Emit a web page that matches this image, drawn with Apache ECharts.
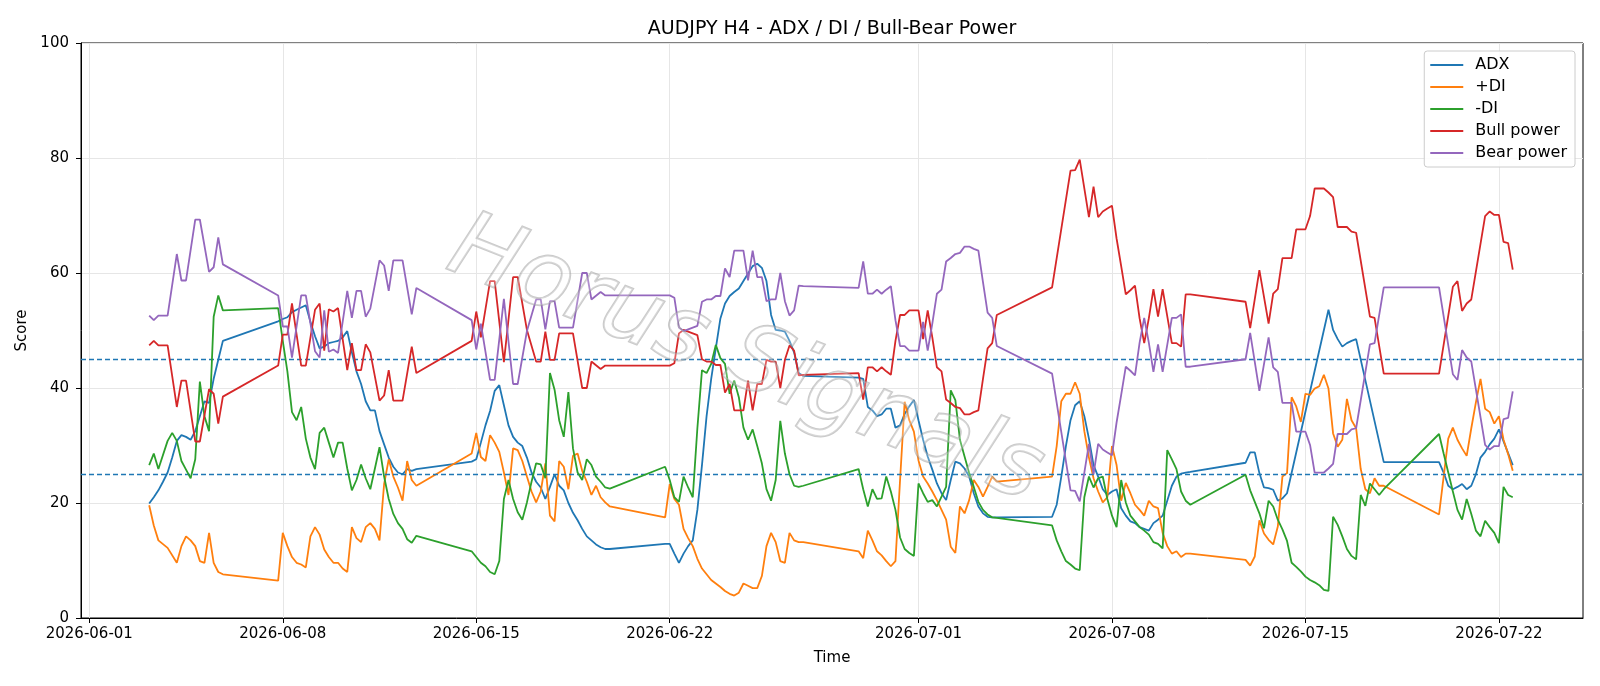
<!DOCTYPE html>
<html>
<head>
<meta charset="utf-8">
<script src="https://cdn.jsdelivr.net/npm/echarts@6/dist/echarts.min.js"></script>
<style>html,body{margin:0;padding:0;background:#fff}#chart{width:1600px;height:686px}</style>
</head>
<body>
<div id="chart"></div>
<script>
// time values are hours since 2026-06-01 00:00 (H4 bars, weekend gaps)
const tickHours = [0, 168, 336, 504, 720, 888, 1056, 1224];
const tickLabels = ['2026-06-01','2026-06-08','2026-06-15','2026-06-22','2026-07-01','2026-07-08','2026-07-15','2026-07-22'];
const yTicks = [0, 20, 40, 60, 80, 100];
const thresholds = [45, 25];

const adx = [[52,19.9],[56,21.0],[60,22.2],[64,23.7],[68,25.3],[72,27.9],[76,30.8],[80,31.8],[84,31.5],[88,31.0],[92,32.5],[96,35.1],[100,37.7],[104,37.4],[108,41.6],[112,44.9],[116,48.2],
[164,51.6],[168,52.0],[172,52.3],[176,53.2],[180,53.6],[184,54.0],[188,54.4],[192,51.5],[196,49.0],[200,46.9],[204,47.2],[208,47.8],[212,48.0],[216,48.2],[220,48.8],[224,49.9],[228,46.2],[232,42.9],[236,40.7],[240,37.7],[244,36.1],[248,36.1],[252,32.5],[256,30.2],[260,27.9],[264,26.3],[268,25.3],[272,25.0],[276,25.9],[280,25.6],[284,25.9],
[332,27.2],[336,27.6],[340,30.5],[344,33.5],[348,36.0],[352,39.5],[356,40.5],[360,37.0],[364,33.5],[368,31.5],[372,30.5],[376,29.9],[380,27.9],[384,25.3],[388,23.7],[392,22.7],[396,20.7],[400,22.8],[404,25.0],[408,23.0],[412,22.2],[416,20.0],[420,18.3],[424,17.0],[428,15.5],[432,14.2],[436,13.5],[440,12.8],[444,12.3],[448,12.0],[452,12.0],
[500,12.9],[504,12.9],[508,11.2],[512,9.6],[516,11.2],[520,12.5],[524,13.5],[528,18.8],[532,26.6],[536,35.1],[540,41.6],[544,46.9],[548,52.1],[552,54.7],[556,56.0],[560,56.7],[564,57.3],[568,58.6],[572,59.9],[576,61.2],[580,61.6],[584,60.9],[588,58.6],[592,52.7],[596,50.1],[600,50.0],[604,49.8],[608,48.2],[612,46.2],[616,42.6],[620,42.1],
[668,41.8],[672,41.6],[676,36.7],[680,36.1],[684,35.1],[688,35.4],[692,36.4],[696,36.4],[700,33.1],[704,33.5],[708,35.5],[712,36.8],[716,37.9],[720,34.4],[724,31.0],[728,28.1],[732,25.8],[736,23.4],[740,21.7],[744,20.5],[748,24.0],[752,27.2],[756,26.9],[760,26.0],[764,24.6],[768,21.7],[772,19.4],[776,18.2],[780,17.6],[784,17.5],[788,17.5],
[836,17.6],[840,19.7],[844,24.6],[848,29.9],[852,34.4],[856,37.0],[860,37.7],[864,35.1],[868,31.2],[872,26.6],[876,24.6],[880,22.4],[884,21.4],[888,22.0],[892,22.4],[896,19.1],[900,17.8],[904,16.8],[908,16.5],[912,15.8],[916,15.5],[920,15.2],[924,16.5],[928,17.1],[932,17.8],[936,20.4],[940,23.0],[944,24.6],[948,25.1],[952,25.3],[956,25.4],
[1004,27.0],[1008,28.8],[1012,28.8],[1016,25.2],[1020,22.7],[1024,22.6],[1028,22.3],[1032,20.4],[1036,20.8],[1040,21.7],[1076,53.6],[1080,50.1],[1084,48.5],[1088,47.2],[1092,47.8],[1096,48.2],[1100,48.5],[1124,27.1],
[1172,27.1],[1176,25.3],[1180,23.0],[1184,22.4],[1188,22.8],[1192,23.3],[1196,22.4],[1200,23.0],[1204,25.0],[1208,27.9],[1212,28.9],[1216,30.2],[1220,31.2],[1224,32.8],[1236,26.6]];

const plusDi = [[52,19.6],[56,16.1],[60,13.5],[68,12.2],[76,9.6],[80,12.5],[84,14.2],[88,13.5],[92,12.5],[96,9.9],[100,9.6],[104,14.8],[108,9.6],[112,8.0],[116,7.6],
[164,6.5],[168,14.8],[172,12.5],[176,10.6],[180,9.6],[184,9.3],[188,8.8],[192,14.2],[196,15.8],[200,14.5],[204,11.9],[208,10.6],[212,9.6],[216,9.6],[220,8.6],[224,8.0],[228,15.8],[232,13.9],[236,13.2],[240,15.8],[244,16.5],[248,15.5],[252,13.5],[256,23.3],[260,27.6],[264,24.6],[268,22.7],[272,20.4],[276,27.3],[280,24.0],[284,23.0],
[332,28.6],[336,32.2],[340,28.0],[344,27.3],[348,31.8],[352,30.5],[356,28.9],[360,25.3],[364,21.4],[368,29.5],[372,29.2],[376,27.3],[380,24.6],[384,22.0],[388,20.1],[392,22.0],[396,26.9],[400,17.8],[404,16.8],[408,27.3],[412,26.3],[416,22.4],[420,28.2],[424,28.6],[428,25.6],[432,23.7],[436,21.4],[440,23.0],[444,21.0],[448,20.1],[452,19.4],
[500,17.5],[504,23.3],[508,20.7],[512,19.7],[516,15.5],[520,13.9],[524,12.5],[528,10.3],[532,8.6],[536,7.6],[540,6.6],[544,6.0],[548,5.4],[552,4.7],[556,4.2],[560,3.9],[564,4.4],[568,6.0],[572,5.6],[576,5.2],[580,5.2],[584,7.3],[588,12.5],[592,14.8],[596,13.2],[600,9.9],[604,9.6],[608,14.8],[612,13.5],[616,13.2],[620,13.2],
[668,11.6],[672,10.4],[676,15.2],[680,13.5],[684,11.6],[688,10.9],[692,9.9],[696,9.0],[700,9.9],[704,24.0],[708,37.6],[712,34.4],[716,32.4],[720,27.4],[724,24.6],[728,23.4],[732,22.0],[736,20.5],[740,18.8],[744,17.1],[748,12.4],[752,11.3],[756,19.4],[760,18.2],[764,20.5],[768,24.0],[772,22.8],[776,21.1],[780,22.8],[784,24.6],[788,23.7],
[836,24.6],[840,29.9],[844,37.7],[848,39.0],[852,39.0],[856,41.0],[860,39.0],[864,32.5],[868,27.9],[872,24.3],[876,22.0],[880,20.1],[884,21.0],[888,29.9],[892,26.6],[896,20.4],[900,23.5],[904,21.7],[908,19.7],[912,18.8],[916,17.8],[920,20.4],[924,19.4],[928,19.1],[932,14.8],[936,12.5],[940,11.2],[944,11.6],[948,10.6],[952,11.2],[956,11.2],
[1004,10.1],[1008,9.1],[1012,10.7],[1016,17.0],[1020,14.7],[1024,13.6],[1028,12.8],[1032,15.9],[1036,24.6],[1040,25.2],[1044,38.4],[1048,36.8],[1052,34.1],[1056,39.0],[1060,38.8],[1064,39.9],[1068,40.3],[1072,42.3],[1076,39.9],[1080,32.1],[1084,29.8],[1088,31.0],[1092,38.1],[1096,34.4],[1100,33.0],[1104,25.9],[1108,22.4],[1112,21.7],[1116,24.3],[1120,23.0],[1124,23.0],
[1172,18.0],[1176,24.6],[1180,31.2],[1184,33.1],[1188,31.0],[1192,29.5],[1196,28.2],[1200,33.0],[1204,37.5],[1208,41.6],[1212,36.4],[1216,35.8],[1220,33.8],[1224,35.1],[1228,31.0],[1232,28.5],[1236,25.6]];

const minusDi = [[52,26.6],[56,28.6],[60,25.9],[68,30.8],[72,32.2],[76,30.8],[80,27.3],[84,25.8],[88,24.3],[92,27.6],[96,41.1],[100,35.1],[104,32.5],[108,52.4],[112,56.1],[116,53.5],
[164,53.9],[168,48.2],[172,42.9],[176,35.8],[180,34.4],[184,36.7],[188,31.2],[192,27.9],[196,25.9],[200,32.2],[204,33.1],[208,30.5],[212,27.9],[216,30.5],[220,30.5],[224,26.0],[228,22.2],[232,24.0],[236,26.7],[240,24.3],[244,22.4],[248,26.0],[252,29.7],[256,24.6],[260,20.7],[264,18.1],[268,16.5],[272,15.5],[276,13.7],[280,13.1],[284,14.3],
[332,11.6],[336,10.6],[340,9.6],[344,9.0],[348,8.0],[352,7.6],[356,9.9],[360,20.7],[364,24.0],[368,20.7],[372,18.4],[376,17.1],[380,20.1],[384,23.7],[388,26.9],[392,26.7],[396,24.3],[400,42.6],[404,39.7],[408,34.4],[412,31.5],[416,39.3],[420,29.5],[424,25.3],[428,24.0],[432,27.6],[436,26.6],[440,24.6],[444,23.7],[448,22.7],[452,22.5],
[500,26.3],[504,24.0],[508,21.0],[512,20.2],[516,24.6],[520,22.7],[524,21.0],[528,33.0],[532,43.1],[536,42.6],[540,44.2],[544,47.5],[548,45.2],[552,44.2],[556,39.0],[560,41.3],[564,38.4],[568,33.1],[572,31.0],[576,32.8],[580,29.9],[584,26.9],[588,22.4],[592,20.4],[596,24.0],[600,34.3],[604,28.6],[608,25.0],[612,23.0],[616,22.8],[620,23.0],
[668,25.9],[672,22.4],[676,19.4],[680,22.4],[684,20.7],[688,20.8],[692,24.6],[696,22.0],[700,18.8],[704,14.0],[708,12.0],[712,11.3],[716,10.8],[720,23.4],[724,21.7],[728,20.2],[732,20.5],[736,19.4],[740,21.1],[744,22.8],[748,39.6],[752,37.9],[756,31.0],[760,28.1],[764,25.2],[768,22.8],[772,20.2],[776,18.8],[780,18.0],[784,17.5],[788,17.4],
[836,16.1],[840,13.5],[844,11.6],[848,9.9],[852,9.3],[856,8.6],[860,8.3],[864,21.0],[868,24.6],[872,22.7],[876,24.3],[880,24.6],[884,20.7],[888,17.8],[892,15.8],[896,24.0],[900,20.1],[904,17.8],[908,16.8],[912,15.8],[916,15.2],[920,14.5],[924,13.2],[928,12.9],[932,12.1],[936,29.2],[940,27.6],[944,25.9],[948,22.0],[952,20.4],[956,19.7],
[1004,24.9],[1008,22.2],[1012,20.2],[1016,18.2],[1020,15.6],[1024,20.4],[1028,19.4],[1032,17.1],[1036,15.4],[1040,13.4],[1044,9.6],[1048,8.9],[1052,8.1],[1056,7.2],[1060,6.6],[1064,6.2],[1068,5.7],[1072,4.9],[1076,4.7],[1080,17.6],[1084,16.2],[1088,14.2],[1092,12.0],[1096,10.8],[1100,10.2],[1104,21.4],[1108,19.5],[1112,23.4],[1116,22.4],[1120,21.4],[1124,22.4],
[1172,32.0],[1176,28.6],[1180,25.3],[1184,22.0],[1188,18.8],[1192,17.1],[1196,20.7],[1200,18.1],[1204,15.2],[1208,14.2],[1212,16.9],[1216,15.8],[1220,14.8],[1224,13.0],[1228,22.8],[1232,21.4],[1236,21.0]];

const bullPower = [[52,47.4],[56,48.2],[60,47.4],[68,47.4],[76,36.7],[80,41.3],[84,41.3],[92,30.7],[96,30.7],[104,39.8],[108,39.0],[112,33.8],[116,38.5],
[164,43.9],[168,49.3],[172,49.3],[176,54.7],[184,43.9],[188,43.9],[196,53.6],[200,54.7],[204,46.5],[208,53.7],[212,53.3],[216,53.9],[224,43.1],[228,47.8],[232,43.1],[236,43.1],[240,47.6],[244,46.2],[252,37.8],[256,38.7],[260,43.1],[264,37.8],[268,37.8],[272,37.8],[280,47.2],[284,42.6],
[332,48.2],[336,53.3],[340,48.8],[348,58.6],[352,58.6],[360,44.5],[368,59.3],[372,59.3],[380,50.1],[388,44.6],[392,44.6],[396,49.8],[400,44.9],[404,44.9],[408,49.5],[412,49.5],[420,49.5],[428,40.0],[432,40.0],[436,44.6],[444,43.3],[448,43.9],[452,43.9],
[500,43.9],[504,43.9],[508,44.3],[512,49.5],[516,50.1],[520,49.8],[524,49.5],[528,49.2],[532,45.0],[536,44.6],[540,44.6],[544,44.0],[548,44.0],[552,39.2],[556,40.7],[560,36.1],[564,36.1],[568,36.1],[572,41.3],[576,36.1],[580,40.7],[584,40.7],[588,44.9],[592,44.6],[596,44.6],[600,40.0],[604,44.9],[608,47.4],[612,46.5],[616,42.2],[620,42.3],
[668,42.6],[672,38.0],[676,43.6],[680,43.6],[684,42.9],[688,43.6],[692,42.9],[696,42.3],[700,48.2],[704,52.7],[708,52.7],[712,53.5],[716,53.5],[720,53.5],[724,48.5],[728,53.5],[732,48.8],[736,43.6],[740,42.9],[744,38.0],[748,37.4],[752,36.7],[756,36.5],[760,35.4],[764,35.4],[768,35.8],[772,36.1],[776,41.6],[780,46.9],[784,47.8],[788,52.7],
[836,57.5],[852,77.8],[856,77.9],[860,79.7],[868,69.7],[872,75.0],[876,69.7],[880,70.7],[884,71.2],[888,71.7],[892,66.0],[896,61.2],[900,56.3],[904,57.0],[908,57.8],[912,52.1],[916,47.8],[920,52.1],[924,57.2],[928,52.4],[932,57.2],[940,47.8],[944,47.8],[948,47.2],[952,56.3],[956,56.3],
[1004,55.0],[1008,50.4],[1016,60.5],[1024,51.2],[1028,56.4],[1032,57.2],[1036,62.6],[1040,62.6],[1044,62.6],[1048,67.6],[1052,67.6],[1056,67.6],[1060,69.9],[1064,74.7],[1068,74.7],[1072,74.7],[1076,74.0],[1080,73.2],[1084,68.0],[1088,68.0],[1092,68.0],[1096,67.2],[1100,67.0],[1112,52.4],[1116,52.2],[1124,42.5],
[1172,42.5],[1184,57.6],[1188,58.6],[1192,53.4],[1196,54.7],[1200,55.4],[1212,69.9],[1216,70.7],[1220,70.1],[1224,70.1],[1228,65.4],[1232,65.2],[1236,60.6]];

const bearPower = [[52,52.6],[56,51.8],[60,52.6],[68,52.6],[76,63.3],[80,58.7],[84,58.7],[92,69.3],[96,69.3],[104,60.2],[108,61.0],[112,66.2],[116,61.5],
[164,56.1],[168,50.7],[172,50.7],[176,45.3],[184,56.1],[188,56.1],[196,46.4],[200,45.3],[204,53.5],[208,46.3],[212,46.7],[216,46.1],[224,56.9],[228,52.2],[232,56.9],[236,56.9],[240,52.4],[244,53.8],[252,62.2],[256,61.3],[260,56.9],[264,62.2],[268,62.2],[272,62.2],[280,52.8],[284,57.4],
[332,51.8],[336,46.7],[340,51.2],[348,41.4],[352,41.4],[360,55.5],[368,40.7],[372,40.7],[380,49.9],[388,55.4],[392,55.4],[396,50.2],[400,55.1],[404,55.1],[408,50.5],[412,50.5],[420,50.5],[428,60.0],[432,60.0],[436,55.4],[444,56.7],[448,56.1],[452,56.1],
[500,56.1],[504,56.1],[508,55.7],[512,50.5],[516,49.9],[520,50.2],[524,50.5],[528,50.8],[532,55.0],[536,55.4],[540,55.4],[544,56.0],[548,56.0],[552,60.8],[556,59.3],[560,63.9],[564,63.9],[568,63.9],[572,58.7],[576,63.9],[580,59.3],[584,59.3],[588,55.1],[592,55.4],[596,55.4],[600,60.0],[604,55.1],[608,52.6],[612,53.5],[616,57.8],[620,57.7],
[668,57.4],[672,62.0],[676,56.4],[680,56.4],[684,57.1],[688,56.4],[692,57.1],[696,57.7],[700,51.8],[704,47.3],[708,47.3],[712,46.5],[716,46.5],[720,46.5],[724,51.5],[728,46.5],[732,51.2],[736,56.4],[740,57.1],[744,62.0],[748,62.6],[752,63.3],[756,63.5],[760,64.6],[764,64.6],[768,64.2],[772,63.9],[776,58.4],[780,53.1],[784,52.2],[788,47.3],
[836,42.5],[852,22.2],[856,22.1],[860,20.3],[868,30.3],[872,25.0],[876,30.3],[880,29.3],[884,28.8],[888,28.3],[892,34.0],[896,38.8],[900,43.7],[904,43.0],[908,42.2],[912,47.9],[916,52.2],[920,47.9],[924,42.8],[928,47.6],[932,42.8],[940,52.2],[944,52.2],[948,52.8],[952,43.7],[956,43.7],
[1004,45.0],[1008,49.6],[1016,39.5],[1024,48.8],[1028,43.6],[1032,42.8],[1036,37.4],[1040,37.4],[1044,37.4],[1048,32.4],[1052,32.4],[1056,32.4],[1060,30.1],[1064,25.3],[1068,25.3],[1072,25.3],[1076,26.0],[1080,26.8],[1084,32.0],[1088,32.0],[1092,32.0],[1096,32.8],[1100,33.0],[1112,47.6],[1116,47.8],[1124,57.5],
[1172,57.5],[1184,42.4],[1188,41.4],[1192,46.6],[1196,45.3],[1200,44.6],[1212,30.1],[1216,29.3],[1220,29.9],[1224,29.9],[1228,34.6],[1232,34.8],[1236,39.4]];

const seriesDefs = [
  {name: 'ADX', data: adx, color: '#1f77b4'},
  {name: '+DI', data: plusDi, color: '#ff7f0e'},
  {name: '-DI', data: minusDi, color: '#2ca02c'},
  {name: 'Bull power', data: bullPower, color: '#d62728'},
  {name: 'Bear power', data: bearPower, color: '#9467bd'}
];

const FONT = 'DejaVu Sans';
const chart = echarts.init(document.getElementById('chart'), null, {renderer: 'canvas'});

const series = seriesDefs.map(function (s, i) {
  return {
    name: s.name, type: 'line', data: s.data, showSymbol: false, symbol: 'none',
    lineStyle: {color: s.color, width: 1.8}, itemStyle: {color: s.color},
    emphasis: {disabled: true}, animation: false, z: 3 + i
  };
});
series.push({
  name: 'thresholds', type: 'line', data: [], silent: true, z: 9,
  markLine: {
    silent: true, symbol: ['none', 'none'], label: {show: false}, animation: false,
    lineStyle: {color: '#1f77b4', type: [5, 3], width: 1.3},
    data: thresholds.map(function (v) { return {yAxis: v}; })
  }
});

const option = {
  backgroundColor: '#ffffff',
  animation: false,
  title: {
    text: 'AUDJPY H4 - ADX / DI / Bull-Bear Power',
    left: 827, top: 15, textAlign: 'center',
    textStyle: {fontFamily: FONT, fontSize: 19, fontWeight: 'normal', color: '#000'}
  },
  grid: {left: 81, right: 17, top: 43, bottom: 68, show: true, borderColor: '#000', borderWidth: 1, backgroundColor: 'transparent'},
  legend: {
    data: seriesDefs.map(function (s) { return s.name; }),
    orient: 'vertical', right: 25, top: 51,
    backgroundColor: 'rgba(255,255,255,0.85)', borderColor: '#cccccc', borderWidth: 1, borderRadius: 3,
    padding: [6, 8, 6, 6], itemGap: 6, itemWidth: 33, itemHeight: 2, icon: 'rect',
    textStyle: {fontFamily: FONT, fontSize: 16, color: '#000', padding: [0, 0, 0, 7]}
  },
  xAxis: {
    type: 'value', min: -7.2, max: 1297,
    name: 'Time', nameLocation: 'middle', nameGap: 33,
    nameTextStyle: {fontFamily: FONT, fontSize: 15, color: '#000'},
    axisLine: {show: true, onZero: false, lineStyle: {color: '#000', width: 1}},
    axisTick: {show: true, customValues: tickHours, length: 5, lineStyle: {color: '#000'}},
    axisLabel: {
      customValues: tickHours, margin: 9, fontFamily: FONT, fontSize: 15, color: '#000',
      formatter: function (v) { const i = tickHours.indexOf(v); return i >= 0 ? tickLabels[i] : ''; }
    },
    splitLine: {show: true, lineStyle: {color: '#e6e6e6', width: 1}}
  },
  yAxis: {
    type: 'value', min: 0, max: 100, interval: 20,
    name: 'Score', nameLocation: 'middle', nameGap: 39,
    nameTextStyle: {fontFamily: FONT, fontSize: 15, color: '#000'},
    axisLine: {show: true, onZero: false, lineStyle: {color: '#000', width: 1}},
    axisTick: {show: true, length: 5, lineStyle: {color: '#000'}},
    axisLabel: {margin: 12, fontFamily: FONT, fontSize: 15, color: '#000',
      formatter: function (v) { return yTicks.indexOf(v) >= 0 ? String(v) : ''; }},
    splitLine: {show: true, lineStyle: {color: '#e6e6e6', width: 1}}
  },
  graphic: [{
    type: 'text', x: 745, y: 362, rotation: -0.38, z: 50, silent: true,
    style: {
      text: 'Horus Signals', fontFamily: FONT, fontSize: 92, fontStyle: 'italic',
      align: 'center', verticalAlign: 'middle',
      fill: 'rgba(255,255,255,0.25)', stroke: 'rgba(150,150,150,0.5)', lineWidth: 2
    }
  }],
  series: series
};
chart.setOption(option);
</script>
</body>
</html>
